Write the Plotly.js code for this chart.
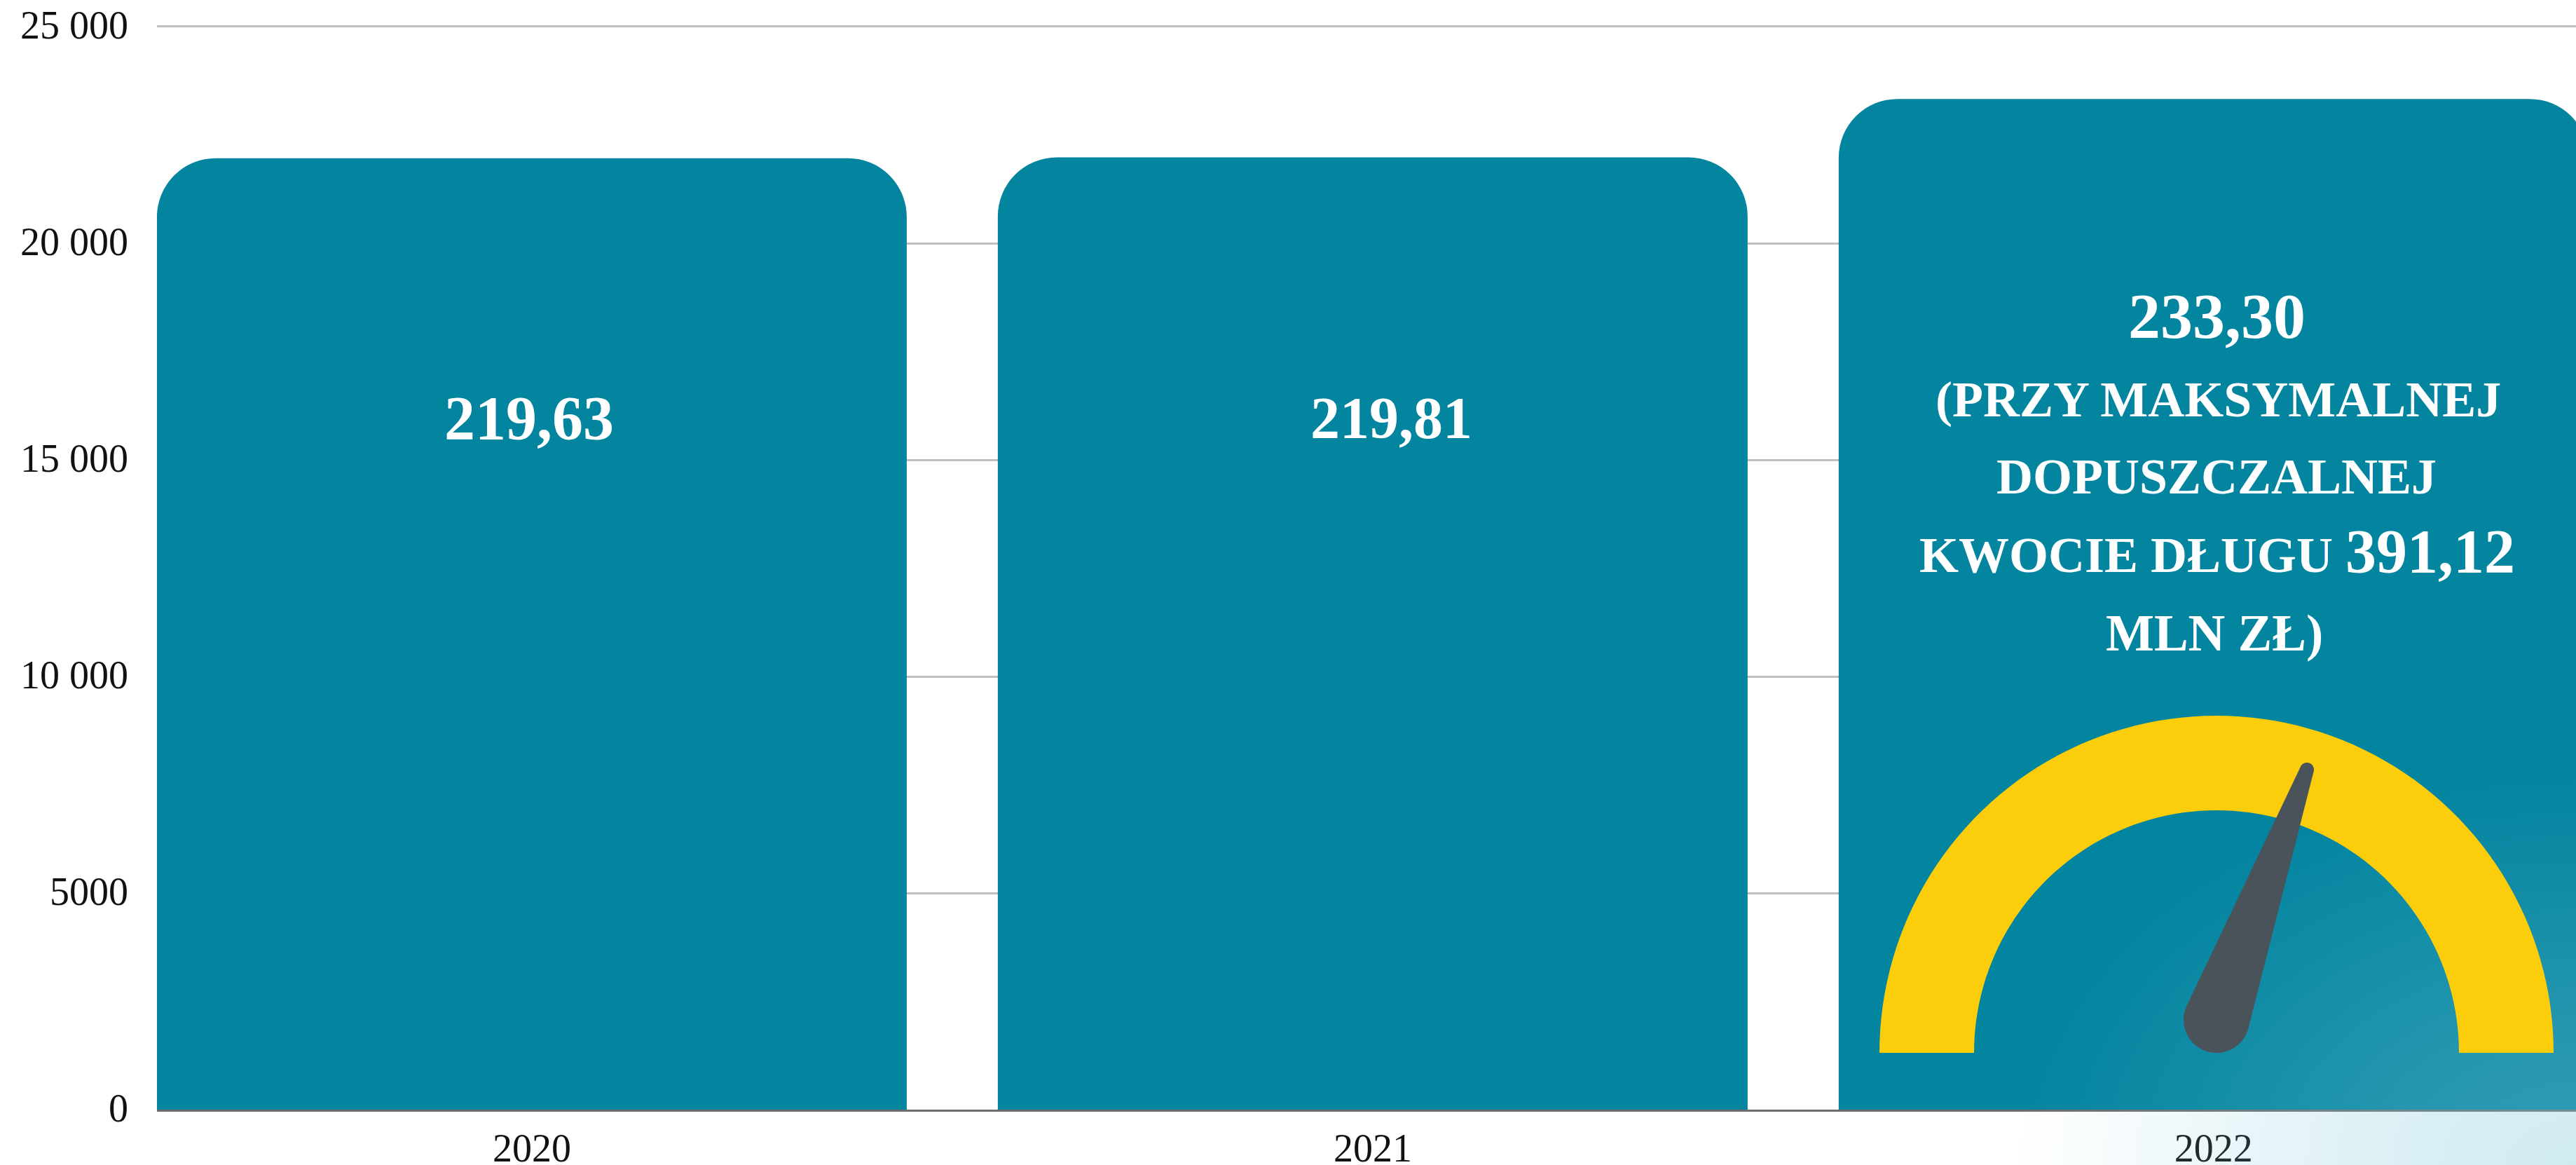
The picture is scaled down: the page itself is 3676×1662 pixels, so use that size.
<!DOCTYPE html>
<html><head><meta charset="utf-8">
<script src="https://cdn.plot.ly/plotly-3.0.1.min.js"></script>
<style>html,body{margin:0;padding:0;background:#fff}#c{width:3676px;height:1662px}</style></head>
<body><div id="c"></div>
<script>
const years = ['2020', '2021', '2022'];
const values = [21963, 21981, 23330];
const valueLabels = ['219,63', '219,81', '233,30'];
const noteLines = ['(PRZY MAKSYMALNEJ', 'DOPUSZCZALNEJ', 'KWOCIE DŁUGU <span style="font-size:88px">391,12</span>', 'MLN ZŁ)'];
const yTicks = [0, 5000, 10000, 15000, 20000, 25000];
const yTickLabels = ['0', '5000', '10 000', '15 000', '20 000', '25 000'];

const W = 3676, H = 1662, L = 224, T = 32, B = 1583;
const TEAL = '#03849F';
const px = x => (x - L) / (W - L);
const py = y => (B - y) / (B - T);
const serif = '"Liberation Serif", serif';

function arc(cx, cy, r, a0, a1) {
  const out = [];
  for (let i = 0; i <= 90; i++) {
    const a = a0 + (a1 - a0) * i / 90;
    out.push([cx + r * Math.cos(a), cy - r * Math.sin(a)]);
  }
  return out;
}
const toPath = pts => 'M' + pts.map(p => px(p[0]).toFixed(6) + ',' + py(p[1]).toFixed(6)).join('L') + 'Z';

const GX = 3163, GY = 1502;
const ring = arc(GX, GY, 481, Math.PI, 0).concat(arc(GX, GY, 346, 0, Math.PI));
// needle: two circles joined by their tangents
const c1 = [GX, 1455, 47], c2 = [3292, 1098, 10];
const ang = Math.atan2(c1[1] - c2[1], c2[0] - c1[0]);
const off = Math.asin((c1[2] - c2[2]) / Math.hypot(c2[0] - c1[0], c2[1] - c1[1]));
const needle = arc(c2[0], c2[1], c2[2], ang - Math.PI / 2 + off, ang + Math.PI / 2 - off)
  .concat(arc(c1[0], c1[1], c1[2], ang + Math.PI / 2 - off, ang + 3 * Math.PI / 2 + off));

const glow = 'data:image/svg+xml;utf8,' + encodeURIComponent(
  `<svg xmlns="http://www.w3.org/2000/svg" width="1100" height="700" viewBox="0 0 1100 700">
   <defs><radialGradient id="g" gradientUnits="userSpaceOnUse" cx="0" cy="0" r="1" gradientTransform="translate(1100 700) scale(800 560)">
   <stop offset="0" stop-color="#7FC8DA" stop-opacity="0.37"/><stop offset="0.35" stop-color="#7FC8DA" stop-opacity="0.27"/>
   <stop offset="1" stop-color="#7FC8DA" stop-opacity="0"/></radialGradient></defs>
   <rect width="1100" height="700" fill="url(#g)"/></svg>`);

const trace = {
  type: 'bar', x: [0, 1, 2], y: values, width: 0.8917,
  marker: { color: TEAL, line: { width: 0 } }, hoverinfo: 'skip'
};

const lab = (x, y, text, size) => ({
  xref: 'paper', yref: 'paper', x: px(x), y: py(y), xanchor: 'center', yanchor: 'middle',
  text, showarrow: false, font: { family: serif, size, color: '#fff', weight: 700 }
});
const annotations = [
  lab(755, 596, valueLabels[0], 88),
  lab(1985, 596, valueLabels[1], 84),
  lab(3163, 451, valueLabels[2], 92),
  lab(3165, 570, noteLines[0], 72),
  lab(3163, 680, noteLines[1], 72),
  lab(3164, 787, noteLines[2], 72),
  lab(3160, 903, noteLines[3], 73)
];

Plotly.newPlot('c', [trace], {
  width: W, height: H, autosize: false, showlegend: false,
  paper_bgcolor: '#fff', plot_bgcolor: '#fff',
  margin: { l: L, r: 0, t: T, b: H - B, pad: 0 },
  barcornerradius: 84,
  xaxis: {
    type: 'linear', range: [-0.4458, 2.431], tickmode: 'array', tickvals: [0, 1, 2], ticktext: years,
    showgrid: false, zeroline: false, showline: true, linecolor: '#6E6E6E', linewidth: 3,
    ticks: '', ticklabelstandoff: 4, tickfont: { family: serif, size: 56, color: '#111' }
  },
  yaxis: {
    range: [0, 25097], tickmode: 'array', tickvals: yTicks, ticktext: yTickLabels,
    showgrid: true, gridcolor: '#BFBFBF', gridwidth: 3, zeroline: false, showline: false,
    ticks: '', ticklabelstandoff: 40, ticklabelshift: -3, tickfont: { family: serif, size: 56, color: '#111' }
  },
  images: [{ source: glow, xref: 'paper', yref: 'paper', x: px(W - 1100), y: py(H - 700),
             sizex: 1100 / (W - L), sizey: 700 / (B - T), xanchor: 'left', yanchor: 'top', sizing: 'stretch', layer: 'above' }],
  shapes: [
    { type: 'path', xref: 'paper', yref: 'paper', path: toPath(ring), fillcolor: '#FBCD0B', line: { width: 0 }, layer: 'above' },
    { type: 'path', xref: 'paper', yref: 'paper', path: toPath(needle), fillcolor: '#4A525A', line: { width: 0 }, layer: 'above' }
  ],
  annotations
}, { displayModeBar: false, staticPlot: true });
</script></body></html>
